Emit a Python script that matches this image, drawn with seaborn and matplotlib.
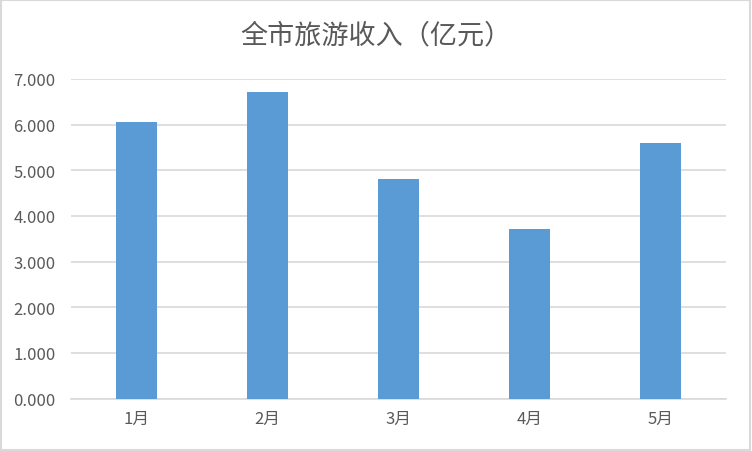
import seaborn as sns
import matplotlib.pyplot as plt
import pandas as pd
from matplotlib.patches import Rectangle

months = ['1月', '2月', '3月', '4月', '5月']
income = [6.05, 6.71, 4.82, 3.71, 5.60]
yticks = [0, 1, 2, 3, 4, 5, 6, 7]

df = pd.DataFrame({'month': months, 'income': income})

sns.set_style('white')
plt.rcParams['font.family'] = ['Noto Sans CJK SC', 'DejaVu Sans']

fig = plt.figure(figsize=(7.52, 4.52), dpi=100)
ax = fig.add_axes([71 / 752, 1 - 399.5 / 452, 655 / 752, 319.5 / 452])

sns.barplot(data=df, x='month', y='income', color='#5B9BD5', width=0.31,
            saturation=1, linewidth=0, ax=ax, zorder=3)

ax.set_ylim(0, 7)
ax.set_yticks(yticks)
ax.set_yticklabels([f'{v:.3f}' for v in yticks])
ax.yaxis.grid(True, color='#D9D9D9', linewidth=1.2, zorder=0)
ax.set_axisbelow(True)
for s in ['top', 'right', 'left']:
    ax.spines[s].set_visible(False)
ax.spines['bottom'].set_color('#D9D9D9')
ax.spines['bottom'].set_linewidth(1.2)
ax.tick_params(axis='both', length=0, labelsize=12, colors='#595959')
ax.tick_params(axis='y', pad=11)
ax.tick_params(axis='x', pad=8)
ax.set_xlabel('')
ax.set_ylabel('')

fig.text(0.5, 1 - 36 / 452, '全市旅游收入（亿元）', ha='center', va='center',
         fontsize=19.5, color='#595959')

fig.patches.append(Rectangle((0.001, 0.002), 0.997, 0.996, transform=fig.transFigure,
                             fill=False, edgecolor='#D9D9D9', linewidth=1.5))

fig.savefig('out.png', dpi=100)
